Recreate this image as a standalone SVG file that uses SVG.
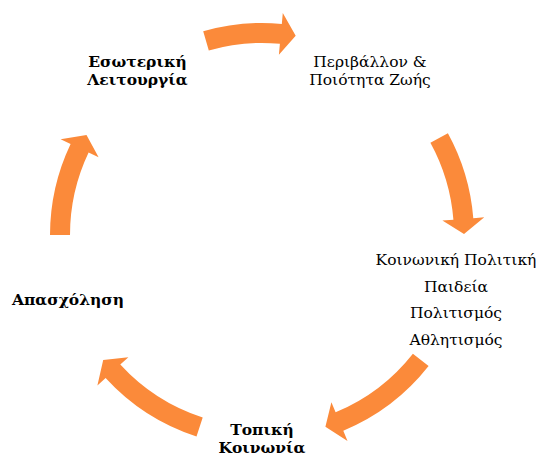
<svg xmlns="http://www.w3.org/2000/svg" width="540" height="456" viewBox="0 0 540 456">
  <style>
    .arrow { fill: #FB8A3A; stroke: none; }
    .t { font-family: "DejaVu Serif", "Liberation Serif", serif; font-size: 15.5px; fill: #000; text-anchor: middle; }
    .b { font-weight: bold; }
  </style>
  <rect width="540" height="456" fill="#ffffff"/>
  <g id="connectors">
    <path class="arrow" d="M 203.2 31.3 A 212 212 0 0 1 281.8 23.9 L 282.8 13.0 L 295.7 35.8 L 278.9 54.8 L 279.9 43.8 A 192 192 0 0 0 208.8 50.5 Z"/>
    <path class="arrow" d="M 447.9 133.2 A 212 212 0 0 1 473.3 218.2 L 484.3 217.3 L 464.0 233.9 L 442.4 220.6 L 453.4 219.8 A 192 192 0 0 0 430.4 142.8 Z"/>
    <path class="arrow" d="M 428.6 366.1 A 212 212 0 0 1 343.3 430.8 L 347.5 441.0 L 325.4 426.8 L 331.4 402.2 L 335.6 412.3 A 192 192 0 0 0 412.9 353.7 Z"/>
    <path class="arrow" d="M 196.5 436.6 A 212 212 0 0 1 105.6 378.1 L 97.4 385.5 L 103.2 359.9 L 128.4 357.2 L 120.3 364.6 A 192 192 0 0 0 202.7 417.6 Z"/>
    <path class="arrow" d="M 50 235 A 212 212 0 0 1 70.6 143.9 L 60.6 139.2 L 86.5 134.9 L 98.6 157.2 L 88.6 152.5 A 192 192 0 0 0 70 235 Z"/>
  </g>
  <g id="node-environment">
    <text class="t" x="370" y="67">Περιβάλλον &amp;</text>
    <text class="t" x="370" y="85">Ποιότητα Ζωής</text>
  </g>
  <g id="node-social">
    <text class="t" x="456" y="265">Κοινωνική Πολιτική</text>
    <text class="t" x="456" y="291.5">Παιδεία</text>
    <text class="t" x="456" y="318">Πολιτισμός</text>
    <text class="t" x="456" y="344.5">Αθλητισμός</text>
  </g>
  <g id="node-local">
    <text class="t b" x="262" y="434.5">Τοπική</text>
    <text class="t b" x="262" y="453">Κοινωνία</text>
  </g>
  <g id="node-employment">
    <text class="t b" x="68" y="305">Απασχόληση</text>
  </g>
  <g id="node-internal">
    <text class="t b" x="137.5" y="67">Εσωτερική</text>
    <text class="t b" x="137.5" y="85">Λειτουργία</text>
  </g>
</svg>
